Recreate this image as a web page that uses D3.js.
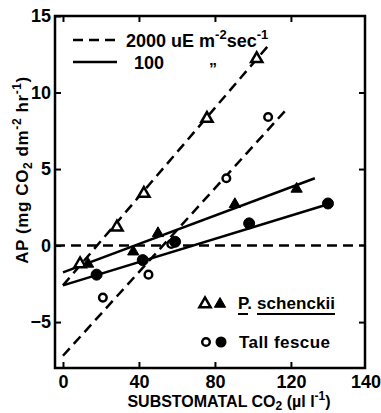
<!DOCTYPE html>
<html lang="en">
<head>
  <meta charset="UTF-8">
  <title>AP vs substomatal CO2</title>
  <script src="https://d3js.org/d3.v7.min.js"></script>
  <style>
    body { margin: 0; background: #fff; }
    svg { display: block; }
    text { font-family: "Liberation Sans", Arial, sans-serif; font-weight: bold; fill: #000; }
  </style>
</head>
<body>
  <div id="chart"></div>

  <script>
    // P. schenckii, 2000 uE (open triangles) and 100 uE (filled triangles)
    const schenckiiHigh = [[9, -1.2], [28.4, 1.2], [42.6, 3.4], [75.8, 8.3], [102, 12.2]];
    const schenckiiLow = [[13.2, -1.2], [37, -0.4], [50, 0.8], [90.5, 2.7], [123, 3.7]];
    // Tall fescue, 2000 uE (open circles) and 100 uE (filled circles)
    const fescueHigh = [[21, -3.4], [45, -1.9], [57, 0.1], [86, 4.4], [108, 8.4]];
    const fescueLow = [[17.7, -1.9], [42, -0.95], [59, 0.25], [98, 1.45], [139.5, 2.75]];

    // fitted lines (end points)
    const schenckiiHighFit = [[0, -2.6], [109, 13.2]];
    const schenckiiLowFit = [[0, -1.75], [132.6, 4.4]];
    const fescueHighFit = [[0, -7.2], [118.4, 9.0]];
    const fescueLowFit = [[0, -2.6], [139.5, 2.7]];

    const xTicks = [0, 40, 80, 120];
    const yTicks = [-5, 0, 5, 10, 15];
    const rightTicks = [-5, 5, 10];

    const width = 381, height = 413;
    const svg = d3.select("#chart").append("svg")
      .attr("width", width).attr("height", height);

    const x = d3.scaleLinear().domain([-4.2, 159]).range([55, 365]);
    const y = d3.scaleLinear().domain([-8, 15]).range([368, 16]);

    const line = d3.line().x(d => x(d[0])).y(d => y(d[1]));
    const dash = "10,6";

    // frame
    svg.append("rect")
      .attr("x", x.range()[0]).attr("y", y.range()[1])
      .attr("width", x.range()[1] - x.range()[0])
      .attr("height", y.range()[0] - y.range()[1])
      .attr("fill", "none").attr("stroke", "#000").attr("stroke-width", 2.5);

    // ticks
    const tickStyle = g => {
      g.select(".domain").remove();
      g.selectAll(".tick line").attr("stroke", "#000").attr("stroke-width", 2);
      g.selectAll(".tick text").attr("font-size", 18);
    };

    svg.append("g")
      .attr("transform", `translate(0,${y.range()[0]})`)
      .call(d3.axisBottom(x).tickValues(xTicks).tickSizeInner(-6).tickSizeOuter(0).tickPadding(7).tickFormat(d3.format("d")))
      .call(tickStyle);

    svg.append("text")
      .attr("x", x.range()[1] + 1).attr("y", 388)
      .attr("text-anchor", "middle").attr("font-size", 18)
      .text("140");

    svg.append("g")
      .attr("transform", `translate(0,${y.range()[1]})`)
      .call(d3.axisTop(x).tickValues(xTicks).tickSizeInner(-6).tickSizeOuter(0).tickFormat(""))
      .call(tickStyle);

    svg.append("g")
      .attr("transform", `translate(${x.range()[0]},0)`)
      .call(d3.axisLeft(y).tickValues(yTicks).tickSizeInner(-6).tickSizeOuter(0).tickPadding(4).tickFormat(d3.format("d")))
      .call(tickStyle);

    svg.append("g")
      .attr("transform", `translate(${x.range()[1]},0)`)
      .call(d3.axisRight(y).tickValues(rightTicks).tickSizeInner(-6).tickSizeOuter(0).tickFormat(""))
      .call(tickStyle);

    // zero line
    svg.append("path")
      .attr("d", line([[x.domain()[0], 0], [x.domain()[1], 0]]))
      .attr("fill", "none").attr("stroke", "#000").attr("stroke-width", 2.5)
      .attr("stroke-dasharray", dash);

    // fitted lines
    const fits = [
      { pts: schenckiiHighFit, dashed: true },
      { pts: fescueHighFit, dashed: true },
      { pts: schenckiiLowFit, dashed: false },
      { pts: fescueLowFit, dashed: false }
    ];
    svg.selectAll(".fit")
      .data(fits)
      .enter().append("path")
      .attr("class", "fit")
      .attr("d", d => line(d.pts))
      .attr("fill", "none").attr("stroke", "#000").attr("stroke-width", 2.5)
      .attr("stroke-dasharray", d => d.dashed ? dash : null);

    // markers
    const tri = d3.symbol(d3.symbolTriangle, 55);
    function triangles(data, filled) {
      svg.append("g").selectAll("path")
        .data(data)
        .enter().append("path")
        .attr("d", tri)
        .attr("transform", d => `translate(${x(d[0])},${y(d[1])})`)
        .attr("fill", filled ? "#000" : "#fff")
        .attr("stroke", "#000").attr("stroke-width", filled ? 1 : 2.5);
    }
    function circles(data, filled) {
      svg.append("g").selectAll("circle")
        .data(data)
        .enter().append("circle")
        .attr("cx", d => x(d[0])).attr("cy", d => y(d[1]))
        .attr("r", filled ? 5.5 : 3.8)
        .attr("fill", filled ? "#000" : "#fff")
        .attr("stroke", "#000").attr("stroke-width", filled ? 1 : 2.5);
    }
    triangles(schenckiiHigh, false);
    triangles(schenckiiLow, true);
    circles(fescueHigh, false);
    circles(fescueLow, true);

    // top legend
    svg.append("line").attr("x1", 73).attr("x2", 117).attr("y1", 40).attr("y2", 40)
      .attr("stroke", "#000").attr("stroke-width", 2.5).attr("stroke-dasharray", dash);
    svg.append("line").attr("x1", 73).attr("x2", 117).attr("y1", 62).attr("y2", 62)
      .attr("stroke", "#000").attr("stroke-width", 2.5);

    const lg1 = svg.append("text").attr("x", 126).attr("y", 47).attr("font-size", 18);
    lg1.append("tspan").text("2000 uE m");
    lg1.append("tspan").attr("dy", -8).attr("font-size", 13).text("-2");
    lg1.append("tspan").attr("dy", 8).text("sec");
    lg1.append("tspan").attr("dy", -8).attr("font-size", 13).text("-1");

    svg.append("text").attr("x", 134).attr("y", 69).attr("font-size", 18).text("100");
    svg.append("text").attr("x", 213).attr("y", 75).attr("font-size", 16)
      .attr("text-anchor", "middle").text("\u201D");

    // bottom legend
    svg.append("path").attr("d", tri).attr("transform", "translate(205,304)")
      .attr("fill", "#fff").attr("stroke", "#000").attr("stroke-width", 2.5);
    svg.append("path").attr("d", tri).attr("transform", "translate(220,304)")
      .attr("fill", "#000").attr("stroke", "#000").attr("stroke-width", 1);
    svg.append("text").attr("x", 238).attr("y", 309).attr("font-size", 17).text("P.");
    svg.append("text").attr("x", 257).attr("y", 309).attr("font-size", 17)
      .attr("textLength", 78).text("schenckii");
    svg.append("line").attr("x1", 238).attr("x2", 248).attr("y1", 314).attr("y2", 314)
      .attr("stroke", "#000").attr("stroke-width", 2);
    svg.append("line").attr("x1", 257).attr("x2", 335).attr("y1", 314).attr("y2", 314)
      .attr("stroke", "#000").attr("stroke-width", 2);

    svg.append("circle").attr("cx", 206).attr("cy", 342).attr("r", 3.8)
      .attr("fill", "#fff").attr("stroke", "#000").attr("stroke-width", 2.5);
    svg.append("circle").attr("cx", 221).attr("cy", 342).attr("r", 5.5)
      .attr("fill", "#000");
    svg.append("text").attr("x", 239).attr("y", 348).attr("font-size", 17)
      .attr("textLength", 91).text("Tall fescue");

    // axis titles
    const xt = svg.append("text").attr("x", 229).attr("y", 407)
      .attr("text-anchor", "middle").attr("font-size", 16);
    xt.append("tspan").text("SUBSTOMATAL CO");
    xt.append("tspan").attr("dy", 3).attr("font-size", 12).text("2");
    xt.append("tspan").attr("dy", -3).text(" (\u00B5l l");
    xt.append("tspan").attr("dy", -7).attr("font-size", 12).text("-1");
    xt.append("tspan").attr("dy", 7).text(")");

    const yt = svg.append("text")
      .attr("transform", "translate(28,170) rotate(-90)")
      .attr("text-anchor", "middle").attr("font-size", 17)
      .attr("letter-spacing", 0.6);
    yt.append("tspan").text("AP (mg CO");
    yt.append("tspan").attr("dy", 4).attr("font-size", 12).text("2");
    yt.append("tspan").attr("dy", -4).text(" dm");
    yt.append("tspan").attr("dy", -7).attr("font-size", 12).text("-2");
    yt.append("tspan").attr("dy", 7).text(" hr");
    yt.append("tspan").attr("dy", -7).attr("font-size", 12).text("-1");
    yt.append("tspan").attr("dy", 7).text(")");
  </script>
</body>
</html>
